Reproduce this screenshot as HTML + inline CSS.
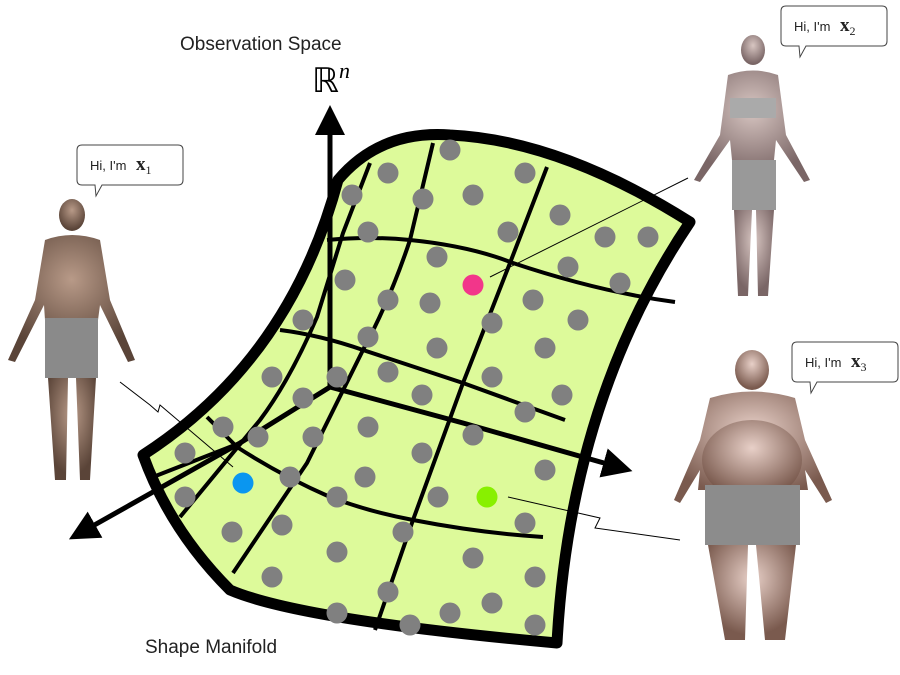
<!DOCTYPE html>
<html><head><meta charset="utf-8"><style>
html,body{margin:0;padding:0;background:#fff;}
svg{display:block;font-family:"Liberation Sans",sans-serif;}
</style></head><body>
<svg width="900" height="675" viewBox="0 0 900 675">
<defs>
<marker id="ah" markerWidth="6" markerHeight="6" refX="3" refY="3" orient="auto" markerUnits="strokeWidth"><path d="M0,0 L6,3 L0,6 z" fill="#000"/></marker>
<radialGradient id="skin1" cx="50%" cy="35%" r="60%"><stop offset="0" stop-color="#b89a88"/><stop offset="1" stop-color="#5a4438"/></radialGradient>
<radialGradient id="skin2" cx="50%" cy="35%" r="60%"><stop offset="0" stop-color="#d8c6c2"/><stop offset="1" stop-color="#7a6666"/></radialGradient>
<radialGradient id="skin3" cx="50%" cy="35%" r="60%"><stop offset="0" stop-color="#e8d0c8"/><stop offset="1" stop-color="#7a5a4e"/></radialGradient>
</defs>

<!-- manifold -->
<path d="M338,180 Q380,130 450,135 Q560,140 690,222 Q570,400 557,643 Q300,620 230,590 Q170,530 143,455 Q290,360 338,180 Z" fill="#ddfa9a" stroke="#000" stroke-width="11" stroke-linejoin="round"/>

<g fill="none" stroke="#000" stroke-width="4">
<path d="M370,163 L343,233 L317,317 Q290,380 260,420 L180,517"/>
<path d="M433,143 L410,240 Q390,300 363,350 L307,463 L233,573"/>
<path d="M547,167 L510,263 L463,383 L413,520 L375,630"/>
<path d="M327,240 Q370,236 410,240 Q470,246 513,263 Q600,292 675,302"/>
<path d="M280,330 Q320,335 363,350 L463,383 L565,420"/>
<path d="M207,417 L237,447 Q280,475 330,497 Q370,512 413,520 Q480,533 543,537"/>
<path d="M153,477 L240,443"/>
</g>

<g stroke="#000" stroke-width="5" fill="none">
<line x1="330" y1="387" x2="330" y2="120" marker-end="url(#ah)"/>
<path d="M330,387 L463,423 L618,467" marker-end="url(#ah)"/>
<path d="M330,387 L240,443 L82,532" marker-end="url(#ah)"/>
</g>

<g fill="#808080">
<circle cx="450" cy="150" r="10.5"/><circle cx="388" cy="173" r="10.5"/><circle cx="525" cy="173" r="10.5"/><circle cx="352" cy="195" r="10.5"/><circle cx="423" cy="199" r="10.5"/><circle cx="473" cy="195" r="10.5"/><circle cx="560" cy="215" r="10.5"/><circle cx="368" cy="232" r="10.5"/><circle cx="508" cy="232" r="10.5"/><circle cx="437" cy="257" r="10.5"/><circle cx="568" cy="267" r="10.5"/><circle cx="345" cy="280" r="10.5"/><circle cx="388" cy="300" r="10.5"/><circle cx="430" cy="303" r="10.5"/><circle cx="533" cy="300" r="10.5"/><circle cx="492" cy="323" r="10.5"/><circle cx="578" cy="320" r="10.5"/><circle cx="303" cy="320" r="10.5"/><circle cx="368" cy="337" r="10.5"/><circle cx="437" cy="348" r="10.5"/><circle cx="545" cy="348" r="10.5"/><circle cx="272" cy="377" r="10.5"/><circle cx="337" cy="377" r="10.5"/><circle cx="388" cy="372" r="10.5"/><circle cx="492" cy="377" r="10.5"/><circle cx="422" cy="395" r="10.5"/><circle cx="562" cy="395" r="10.5"/><circle cx="303" cy="398" r="10.5"/><circle cx="525" cy="412" r="10.5"/><circle cx="223" cy="427" r="10.5"/><circle cx="258" cy="437" r="10.5"/><circle cx="313" cy="437" r="10.5"/><circle cx="368" cy="427" r="10.5"/><circle cx="473" cy="435" r="10.5"/><circle cx="422" cy="453" r="10.5"/><circle cx="185" cy="453" r="10.5"/><circle cx="545" cy="470" r="10.5"/><circle cx="290" cy="477" r="10.5"/><circle cx="365" cy="477" r="10.5"/><circle cx="185" cy="497" r="10.5"/><circle cx="337" cy="497" r="10.5"/><circle cx="438" cy="497" r="10.5"/><circle cx="525" cy="523" r="10.5"/><circle cx="232" cy="532" r="10.5"/><circle cx="282" cy="525" r="10.5"/><circle cx="403" cy="532" r="10.5"/><circle cx="337" cy="552" r="10.5"/><circle cx="473" cy="558" r="10.5"/><circle cx="535" cy="577" r="10.5"/><circle cx="272" cy="577" r="10.5"/><circle cx="388" cy="592" r="10.5"/><circle cx="337" cy="613" r="10.5"/><circle cx="450" cy="613" r="10.5"/><circle cx="492" cy="603" r="10.5"/><circle cx="410" cy="625" r="10.5"/><circle cx="535" cy="625" r="10.5"/><circle cx="605" cy="237" r="10.5"/><circle cx="648" cy="237" r="10.5"/><circle cx="620" cy="283" r="10.5"/>
</g>
<circle cx="473" cy="285" r="10.5" fill="#f2368a"/>
<circle cx="243" cy="483" r="10.5" fill="#0a96f0"/>
<circle cx="487" cy="497" r="10.5" fill="#88f000"/>

<g fill="none" stroke="#000" stroke-width="1">
<path d="M233,467 L160,405 L158,412 L150,405 L120,382"/>
<path d="M490,277 L688,178"/>
<path d="M508,497 L600,518 L595,528 L680,540"/>
</g>

<text x="180" y="50" font-size="19" fill="#222">Observation Space</text>
<text x="312" y="92" font-size="34" font-family="Liberation Serif,serif" fill="#000">ℝ<tspan font-size="22" dy="-14" font-style="italic">n</tspan></text>
<text x="145" y="653" font-size="19" fill="#222">Shape Manifold</text>

<!-- person 1 -->
<g>
<ellipse cx="72" cy="215" rx="13" ry="16" fill="url(#skin1)"/>
<path d="M45,240 Q72,230 100,240 L110,300 L135,360 L128,362 L100,305 L98,320 L45,320 L44,305 L15,362 L8,360 L35,300 Z" fill="url(#skin1)"/>
<rect x="45" y="318" width="53" height="60" fill="#8a8a8a"/>
<path d="M48,378 L68,378 L66,480 L55,480 Z M76,378 L96,378 L90,480 L80,480 Z" fill="url(#skin1)"/>
</g>
<!-- person 2 -->
<g>
<ellipse cx="753" cy="50" rx="12" ry="15" fill="url(#skin2)"/>
<path d="M728,75 Q753,66 778,75 L786,135 L810,180 L804,182 L776,140 L774,160 L732,160 L730,140 L700,182 L694,180 L720,135 Z" fill="url(#skin2)"/>
<rect x="730" y="98" width="46" height="20" fill="#aaa"/>
<rect x="732" y="160" width="44" height="50" fill="#999"/>
<path d="M734,210 L752,210 L748,296 L738,296 Z M756,210 L774,210 L768,296 L758,296 Z" fill="url(#skin2)"/>
</g>
<!-- person 3 -->
<g>
<ellipse cx="752" cy="370" rx="17" ry="20" fill="url(#skin3)"/>
<path d="M710,398 Q752,385 795,398 L805,440 L832,500 L826,503 L805,470 L808,490 L698,490 L700,470 L680,503 L674,500 L700,440 Z" fill="url(#skin3)"/>
<ellipse cx="752" cy="460" rx="50" ry="40" fill="url(#skin3)"/>
<rect x="705" y="485" width="95" height="60" fill="#8c8c8c"/>
<path d="M708,545 L748,545 L745,640 L725,640 Z M756,545 L796,545 L785,640 L765,640 Z" fill="url(#skin3)"/>
</g>

<!-- speech bubbles -->
<g>
<path d="M82,145 L178,145 Q183,145 183,150 L183,180 Q183,185 178,185 L102,185 L96,196 L95,185 L82,185 Q77,185 77,180 L77,150 Q77,145 82,145 Z" fill="#fff" stroke="#444" stroke-width="1"/>
<text x="90" y="170" font-size="13" fill="#222">Hi, I'm <tspan font-family="Liberation Serif,serif" font-weight="bold" font-size="19" dx="6">x</tspan><tspan font-size="12" dy="4" font-family="Liberation Serif,serif">1</tspan></text>
</g>
<g>
<path d="M786,6 L882,6 Q887,6 887,11 L887,41 Q887,46 882,46 L806,46 L800,57 L799,46 L786,46 Q781,46 781,41 L781,11 Q781,6 786,6 Z" fill="#fff" stroke="#444" stroke-width="1"/>
<text x="794" y="31" font-size="13" fill="#222">Hi, I'm <tspan font-family="Liberation Serif,serif" font-weight="bold" font-size="19" dx="6">x</tspan><tspan font-size="12" dy="4" font-family="Liberation Serif,serif">2</tspan></text>
</g>
<g>
<path d="M797,342 L893,342 Q898,342 898,347 L898,377 Q898,382 893,382 L817,382 L811,393 L810,382 L797,382 Q792,382 792,377 L792,347 Q792,342 797,342 Z" fill="#fff" stroke="#444" stroke-width="1"/>
<text x="805" y="367" font-size="13" fill="#222">Hi, I'm <tspan font-family="Liberation Serif,serif" font-weight="bold" font-size="19" dx="6">x</tspan><tspan font-size="12" dy="4" font-family="Liberation Serif,serif">3</tspan></text>
</g>
</svg>
</body></html>
